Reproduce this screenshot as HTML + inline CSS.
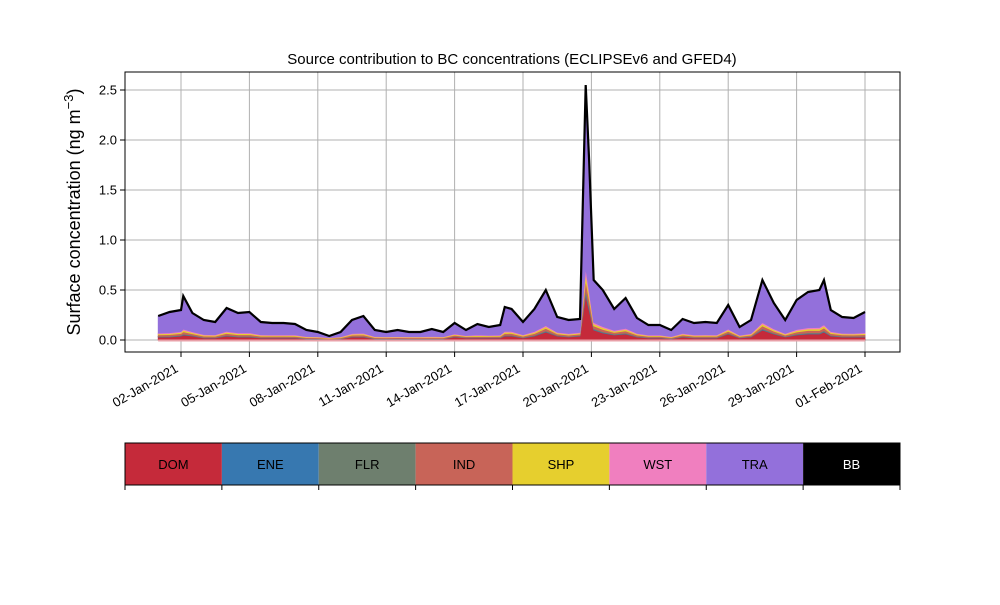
<!DOCTYPE html>
<html><head><meta charset="utf-8"><style>
body{margin:0;background:#fff;width:1000px;height:600px;overflow:hidden}
svg{font-family:"Liberation Sans","DejaVu Sans",sans-serif}
</style></head><body>
<svg id="c" width="1000" height="600" viewBox="0 0 1000 600"></svg>
<script>
const days = [0,0.5,1,1.1,1.5,2,2.5,3,3.5,4,4.5,5,5.5,6,6.5,7,7.5,8,8.5,9,9.5,10,10.5,11,11.5,12,12.5,13,13.5,14,14.5,15,15.2,15.5,16,16.5,17,17.5,18,18.5,18.75,18.9,19.1,19.5,20,20.5,21,21.5,22,22.5,23,23.5,24,24.5,25,25.5,26,26.5,27,27.5,28,28.5,29,29.2,29.5,30,30.5,31];
const total = [.24,.28,.30,.44,.27,.20,.18,.32,.27,.28,.18,.17,.17,.16,.10,.08,.04,.08,.20,.24,.10,.08,.10,.08,.08,.11,.08,.17,.10,.16,.13,.15,.33,.31,.18,.31,.50,.23,.20,.21,2.55,1.8,.6,.50,.31,.42,.22,.15,.15,.10,.21,.17,.18,.17,.35,.13,.20,.60,.37,.20,.40,.48,.50,.60,.30,.23,.22,.28];
const dom = [.03,.03,.04,.05,.04,.02,.02,.04,.03,.03,.02,.02,.02,.02,.01,.01,.005,.01,.03,.03,.01,.01,.01,.01,.01,.01,.01,.03,.02,.02,.02,.02,.04,.04,.02,.04,.08,.04,.03,.04,.45,.30,.10,.07,.05,.06,.03,.02,.02,.01,.03,.02,.02,.02,.06,.02,.03,.10,.06,.03,.05,.06,.06,.08,.04,.03,.03,.03];
const eneShare = 0.08, flrShare = 0.12, indShare = 0.35, shpShare = 0.25, wstShare = 0.2;
const seriesNames = ["DOM","ENE","FLR","IND","SHP","WST","TRA","BB"];
const seriesColors = ["#c52a3a","#3778b0","#6e7f6e","#c86458","#e6cf2e","#f07fbf","#9370db","#000000"];
const dateTicks = [1,4,7,10,13,16,19,22,25,28,31];
const dateLabels = ["02-Jan-2021","05-Jan-2021","08-Jan-2021","11-Jan-2021","14-Jan-2021","17-Jan-2021","20-Jan-2021","23-Jan-2021","26-Jan-2021","29-Jan-2021","01-Feb-2021"];
const yTicks = [0,0.5,1.0,1.5,2.0,2.5];

const NS="http://www.w3.org/2000/svg", svg=document.getElementById('c');
const L=125,R=900,T=72,B=352;
const X=d=>158.2+22.8*d, Y=v=>340-100*v;
function mk(t,a,p){const e=document.createElementNS(NS,t);for(const k in a)e.setAttribute(k,a[k]);(p||svg).appendChild(e);return e;}
const grid=mk('g',{});


dateTicks.forEach(d=>mk('line',{x1:X(d),x2:X(d),y1:T,y2:B,stroke:'#b0b0b0','stroke-width':1},grid));
yTicks.forEach(v=>mk('line',{x1:L,x2:R,y1:Y(v),y2:Y(v),stroke:'#b0b0b0','stroke-width':1},grid));
const comps=days.map((d,i)=>{const o=total[i]*0.1+0.015;const r=[dom[i],o*eneShare,o*flrShare,o*indShare,o*shpShare,o*wstShare];const s=r.reduce((a,b)=>a+b,0);r.push(Math.max(total[i]-s,0));return r;});
let lower=days.map(()=>0);
const areas=mk('g',{});


for(let k=0;k<7;k++){
  const upper=lower.map((v,i)=>v+comps[i][k]);
  let p='M'+days.map((d,i)=>X(d)+','+Y(upper[i])).join('L');
  for(let i=days.length-1;i>=0;i--)p+='L'+X(days[i])+','+Y(lower[i]);
  const a=mk('path',{d:p+'Z',fill:seriesColors[k],stroke:seriesColors[k],'stroke-width':0.8},areas);
  
  
  lower=upper;
}
const base=mk('line',{x1:X(0),x2:X(31),y1:Y(0)+0.5,y2:Y(0)+0.5,stroke:'#e8a0a8','stroke-width':2});


const bb=mk('path',{d:'M'+days.map((d,i)=>X(d)+','+Y(total[i])).join('L'),fill:'none',stroke:'#000','stroke-width':2.2});


const fr=mk('rect',{x:L,y:T,width:R-L,height:B-T,fill:'none',stroke:'#000','stroke-width':1});


const xa=mk('g',{});


dateTicks.forEach((d,i)=>{mk('line',{x1:X(d),x2:X(d),y1:B,y2:B+5,stroke:'#000'},xa);
 const ax=X(d)-2, ay=B+19;
 const t=mk('text',{x:ax,y:ay,'font-size':13,'text-anchor':'end',transform:`rotate(-30 ${ax} ${ay})`},xa);t.textContent=dateLabels[i];});
const ya=mk('g',{});


yTicks.forEach(v=>{mk('line',{x1:L-5,x2:L,y1:Y(v),y2:Y(v),stroke:'#000'},ya);
 const t=mk('text',{x:L-8,y:Y(v)+4.5,'font-size':13,'text-anchor':'end'},ya);t.textContent=v.toFixed(1);});
const yt=mk('text',{x:80,y:212,'font-size':18,'text-anchor':'middle',transform:'rotate(-90 80 212)'});


yt.innerHTML='Surface concentration (ng m<tspan dy="-7" font-size="13">−3</tspan><tspan dy="7">)</tspan>';
const ti=mk('text',{x:512,y:64,'font-size':15,'text-anchor':'middle'});


ti.textContent='Source contribution to BC concentrations (ECLIPSEv6 and GFED4)';
const lg=mk('g',{});


const w=(R-L)/8;
seriesNames.forEach((n,i)=>{
 const r=mk('rect',{x:L+i*w,y:443,width:w,height:42,fill:seriesColors[i]},lg);
 
 
 const t=mk('text',{x:L+i*w+w/2,y:469,'font-size':13,'text-anchor':'middle',fill:i==7?'#fff':'#000'},lg);t.textContent=n;});
mk('rect',{x:L,y:443,width:R-L,height:42,fill:'none',stroke:'#000','stroke-width':1},lg);
for(let i=0;i<=8;i++)mk('line',{x1:L+i*w,x2:L+i*w,y1:485,y2:490,stroke:'#000'},lg);
</script>
</body></html>
